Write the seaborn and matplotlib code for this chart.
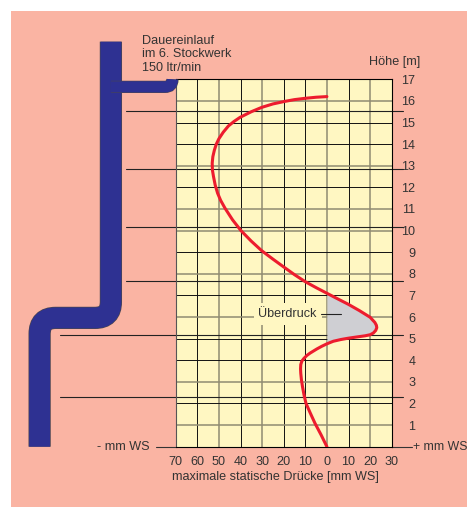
import numpy as np
import pandas as pd
import seaborn as sns
import matplotlib.pyplot as plt
import matplotlib.patheffects as pe
from matplotlib.patches import PathPatch, Rectangle
from matplotlib.path import Path

# pressure curve, bottom to top
druck = [0, -2.7, -5.5, -7.8, -9.7, -10.6, -11.3, -11.8, -12.1, -12.2, -12.1, -11.6, -10.6, -9.3, -7.8, -4.7, -2.3,
         0, 3, 6.5, 9.9, 14, 17.6, 20, 21.5, 22.6, 23.1, 22.9, 22.2, 20, 15, 9.9, 5, 0,
         -5, -10.1, -15, -19.9, -25, -30.2, -35, -39.8, -43.7, -47.2, -49.2, -50.6, -51.7, -52.5, -53, -53.1, -52.8,
         -52.1, -51.2, -50, -48, -45.6, -43, -40.2, -35, -30.2, -25, -19.4, -15, -10.1, -5, 0]
hoehe = [0, 0.55, 1.08, 1.58, 2.01, 2.4, 2.78, 3.1, 3.4, 3.6, 3.8, 3.96, 4.09, 4.22, 4.33, 4.52, 4.65,
         4.76, 4.88, 4.96, 5.02, 5.08, 5.13, 5.18, 5.26, 5.38, 5.51, 5.62, 5.75, 5.99, 6.3, 6.59, 6.84, 7.1,
         7.36, 7.64, 7.96, 8.31, 8.68, 9.07, 9.51, 10, 10.5, 11.04, 11.4, 11.73, 12.1, 12.5, 12.8, 13.12, 13.42,
         13.72, 14, 14.25, 14.55, 14.84, 15.05, 15.24, 15.5, 15.7, 15.86, 15.98, 16.06, 16.12, 16.17, 16.2]
ueber_druck = [0, 3, 6.5, 9.9, 14, 17.6, 20, 21.5, 22.6, 23.1, 22.9, 22.2, 20, 15, 9.9, 5, 0]
ueber_hoehe = [4.76, 4.88, 4.96, 5.02, 5.08, 5.13, 5.18, 5.26, 5.38, 5.51, 5.62, 5.75, 5.99, 6.3, 6.59, 6.84, 7.1]

x_ticks = [-70, -60, -50, -40, -30, -20, -10, 0, 10, 20, 30]
x_labels = ["70", "60", "50", "40", "30", "20", "10", "0", "10", "20", "30"]
y_ticks = list(range(1, 18))
x_dark = [-70, -60, -40, -20, -10, 10, 30]
y_dark = [0, 2, 4, 5, 7, 9, 12, 14, 15, 17]

# storey lines
stock_hoch = [15.52, 12.86, 10.16, 7.69]
stock_tief = [5.16, 2.3]

# pipe centre lines
rohr_x = [-100, -100, -100, -107.4, -125.6, -133, -133, -133]
rohr_y = [18.74, 6.7, 5.96, 5.96, 5.96, 5.96, 5.22, 0]
zulauf_x = [-100, -75, -71.5, -71.5]
zulauf_y = [16.65, 16.65, 16.65, 17.0]

ROSA = "#fab4a3"
GELB = "#fff7c2"
BLAU = "#2e3192"
ROT = "#ed1c2e"
TEXT = "#333333"
FS = 9.1

sns.set_theme(style="white")
plt.rcParams["font.family"] = ["Liberation Sans", "DejaVu Sans"]
plt.rcParams["font.size"] = FS

fig = plt.figure(figsize=(4.67, 5.07), dpi=100, facecolor="white")
fig.patches.append(Rectangle((11 / 467, 0), 456 / 467, 496 / 507, transform=fig.transFigure, color=ROSA, lw=0, zorder=-1))
ax = fig.add_axes([175.7 / 467, 60.3 / 507, 216 / 467, 367.4 / 507], facecolor=GELB)

ax.set_xlim(-70, 30)
ax.set_ylim(0, 17)
ax.set_xticks(x_ticks, x_labels)
ax.set_yticks(y_ticks)
ax.yaxis.tick_right()
ax.tick_params(axis="both", length=0, labelsize=FS, labelcolor=TEXT)
ax.tick_params(axis="x", pad=6.5)
ax.tick_params(axis="y", pad=17)
for lab in ax.get_yticklabels():
    lab.set_ha("right")
for s in ax.spines.values():
    s.set_linewidth(0.8)
    s.set_color("black")
ax.spines["left"].set_color("#555555")

for x in x_ticks[1:-1]:
    if x in x_dark:
        ax.axvline(x, color="#111111", lw=0.7, zorder=1)
    else:
        ax.axvline(x, color="#8f8b72", lw=1.1, zorder=1)
for y in y_ticks[:-1]:
    if y in y_dark:
        ax.axhline(y, color="#111111", lw=0.7, zorder=1)
    else:
        ax.axhline(y, color="#8f8b72", lw=1.1, zorder=1)

# storey lines stick out of the grid
for y in stock_hoch:
    ax.plot([-93, 35], [y, y], color="#222222", lw=0.8, clip_on=False, zorder=1.5)
for y in stock_tief:
    ax.plot([-123.5, 35], [y, y], color="#222222", lw=0.8, clip_on=False, zorder=1.5)
ax.plot([-79, -70], [0, 0], color="#333333", lw=0.8, clip_on=False)
ax.plot([30, 39.5], [0, 0], color="#333333", lw=0.8, clip_on=False)

rohr_codes = [Path.MOVETO, Path.LINETO, Path.CURVE3, Path.CURVE3, Path.LINETO, Path.CURVE3, Path.CURVE3, Path.LINETO]
rand = [pe.Stroke(linewidth=16, foreground="#4a4650"), pe.Normal()]
ax.add_patch(PathPatch(Path(np.column_stack([rohr_x, rohr_y]), rohr_codes), fill=False, color=BLAU, lw=15,
                       capstyle="butt", clip_on=False, zorder=3, path_effects=rand))
rand2 = [pe.Stroke(linewidth=8.8, foreground="#4a4650"), pe.Normal()]
ax.add_patch(PathPatch(Path(np.column_stack([zulauf_x, zulauf_y]), [Path.MOVETO, Path.LINETO, Path.CURVE3, Path.CURVE3]),
                       fill=False, color=BLAU, lw=8, capstyle="butt", clip_on=False, zorder=3, path_effects=rand2))

ax.fill_betweenx(ueber_hoehe, 0, ueber_druck, color="#cfcfd3", lw=0, zorder=2)
df = pd.DataFrame({"druck": druck, "hoehe": hoehe})
sns.lineplot(data=df, x="druck", y="hoehe", sort=False, estimator=None, color=ROT, lw=2.2, ax=ax, zorder=4,
             solid_joinstyle="round")
ax.set_xlabel("maximale statische Drücke [mm WS]", fontsize=FS, color=TEXT, labelpad=2, x=0.464)
ax.set_ylabel("")

ax.text(-18.2, 6.14, "Überdruck", ha="center", va="center", color=TEXT, zorder=5,
        bbox=dict(facecolor=GELB, edgecolor="none", pad=3.5))
ax.plot([-2.8, 6.5], [6.14, 6.14], color="#222222", lw=0.8, zorder=5)

ax.text(-85.6, 18.15, "Dauereinlauf\nim 6. Stockwerk\n150 ltr/min", ha="left", va="center", color=TEXT, linespacing=1.15,
        clip_on=False)
ax.text(43, 17.82, "Höhe [m]", ha="right", va="center", color=TEXT)
ax.text(-81.9, 0, "- mm WS", ha="right", va="center", color=TEXT)
ax.text(39.8, 0, "+ mm WS", ha="left", va="center", color=TEXT, clip_on=False, fontsize=8.8)

fig.savefig("out.png", dpi=100)
